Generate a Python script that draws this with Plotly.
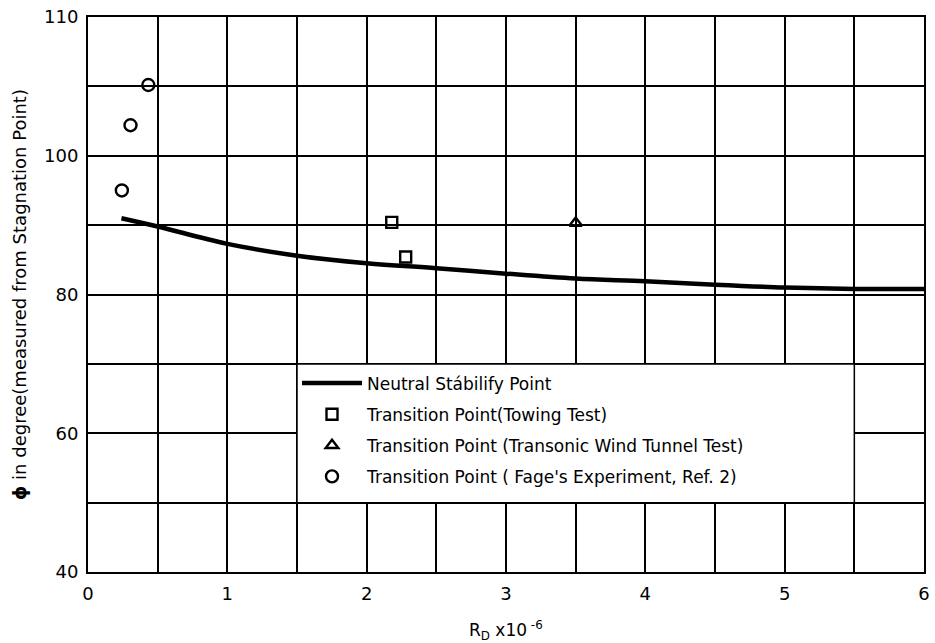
import plotly.graph_objects as go

# Neutral stability curve
line_x = [0.24, 0.5, 1.0, 1.5, 2.0, 2.5, 3.0, 3.5, 4.0, 4.5, 5.0, 5.5, 6.0]
line_y = [91.0, 89.8, 87.3, 85.6, 84.5, 83.8, 83.0, 82.3, 81.9, 81.4, 81.0, 80.8, 80.8]

# Towing test transition points
tow_x = [2.18, 2.28]
tow_y = [90.4, 85.4]

# Transonic wind tunnel test
wt_x = [3.5]
wt_y = [90.3]

# Fage's experiment
fage_x = [0.433, 0.305, 0.243]
fage_y = [110.2, 104.4, 95.0]

xtick_vals = [0, 1, 2, 3, 4, 5, 6]
xtick_text = ["0", "1", "2", "3", "4", "5", "6"]
ytick_vals = [40, 60, 80, 100, 120]
ytick_text = ["40", "60", "80", "100", "110"]

FONT = "DejaVu Sans"

fig = go.Figure()
fig.add_trace(go.Scatter(x=line_x, y=line_y, mode="lines", line=dict(color="black", width=4.5, shape="spline"),
                         name="Neutral Stábilify Point", legendgroup="a"))
fig.add_trace(go.Scatter(x=tow_x, y=tow_y, mode="markers",
                         marker=dict(symbol="square-open", size=11, color="black", line=dict(width=2.4)),
                         name="Transition Point(Towing Test)", legendgroup="b"))
fig.add_trace(go.Scatter(x=wt_x, y=wt_y, mode="markers",
                         marker=dict(symbol="triangle-up-open", size=11, color="black", line=dict(width=2.4)),
                         name="Transition Point (Transonic Wind Tunnel Test)", legendgroup="c"))
fig.add_trace(go.Scatter(x=fage_x, y=fage_y, mode="markers",
                         marker=dict(symbol="circle-open", size=12, color="black", line=dict(width=2.4)),
                         name="Transition Point ( Fage's Experiment, Ref. 2)", legendgroup="d"))

fig.add_shape(type="rect", xref="x", yref="y", x0=1.5, x1=5.5, y0=50, y1=70,
              fillcolor="white", line=dict(color="black", width=1.5), layer="between")

fig.update_layout(
    width=935, height=643,
    margin=dict(l=88, r=5, t=17, b=71),
    paper_bgcolor="white", plot_bgcolor="white",
    font=dict(family=FONT, color="black", size=16),
    showlegend=True,
    legend=dict(x=0.25, y=0.372, xanchor="left", yanchor="top", bgcolor="rgba(0,0,0,0)",
                font=dict(family=FONT, size=17, color="black"), itemwidth=60, tracegroupgap=6),
    xaxis=dict(range=[0, 6], tickvals=xtick_vals, ticktext=xtick_text, showgrid=True,
               gridcolor="black", gridwidth=1.5, zeroline=False,
               minor=dict(dtick=0.5, showgrid=True, gridcolor="black", gridwidth=1.5),
               showline=True, linecolor="black", linewidth=2, mirror=True, ticks="",
               ticklabelstandoff=4,
               tickfont=dict(family=FONT, size=18, color="black")),
    yaxis=dict(range=[40, 120], tickvals=ytick_vals, ticktext=ytick_text, showgrid=True,
               gridcolor="black", gridwidth=1.5, zeroline=False,
               minor=dict(dtick=10, showgrid=True, gridcolor="black", gridwidth=1.5),
               showline=True, linecolor="black", linewidth=2, mirror=True, ticks="",
               ticklabelstandoff=4,
               tickfont=dict(family=FONT, size=18, color="black")),
)

fig.add_annotation(text="<b>ϕ</b> in degree(measured from Stagnation Point)", textangle=-90,
                   xref="paper", yref="paper", x=-0.082, y=0.5, xanchor="center", yanchor="middle",
                   showarrow=False, font=dict(family=FONT, size=18, color="black"))
fig.add_annotation(text="R<sub>D</sub> x10<sup> -6</sup>",
                   xref="paper", yref="paper", x=0.5, y=-0.105, xanchor="center", yanchor="middle",
                   showarrow=False, font=dict(family=FONT, size=17, color="black"))

fig.write_html("out.html")
